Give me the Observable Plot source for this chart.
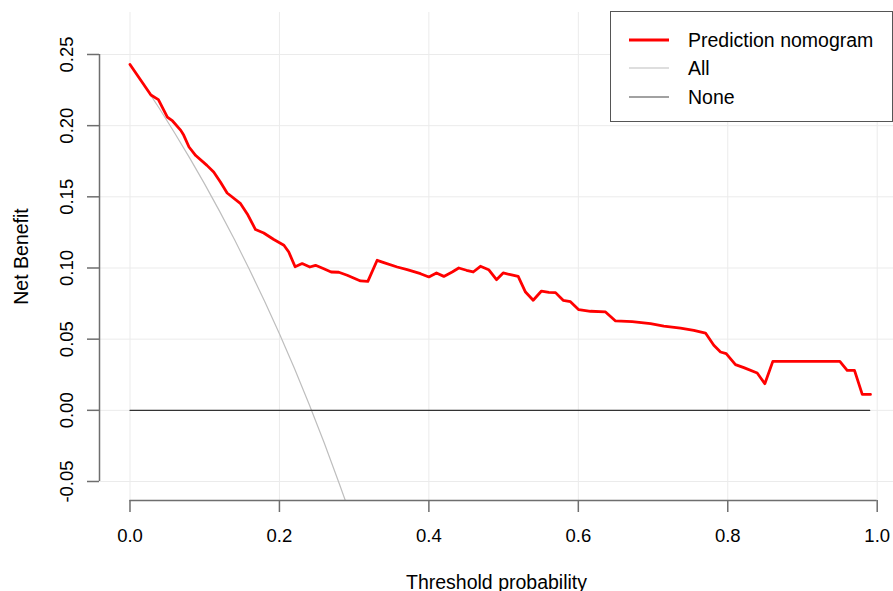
<!DOCTYPE html>
<html><head><meta charset="utf-8">
<script src="https://cdn.jsdelivr.net/npm/d3@7"></script>
<script src="https://cdn.jsdelivr.net/npm/@observablehq/plot@0.6"></script>
<style>
body{margin:0;background:#fff;}
#wrap{position:relative;width:893px;height:591px;font-family:"Liberation Sans",Arial,sans-serif;}
#legend{position:absolute;left:610px;top:11px;width:283px;height:111px;border:1px solid #555;background:#fff;box-sizing:border-box;}
</style>
</head><body>
<div id="wrap"><div id="legend"></div></div>
<script>
// Prediction nomogram curve
const modelX = [0,0.028,0.038,0.05,0.057,0.068,0.072,0.079,0.088,0.103,0.112,0.121,0.13,0.148,0.157,0.168,0.179,0.1925,0.206,0.2125,0.221,0.2304,0.2407,0.2483,0.2594,0.2692,0.2795,0.2907,0.3085,0.3183,0.3308,0.3397,0.3576,0.371,0.3888,0.400,0.4102,0.420,0.4312,0.440,0.4503,0.4593,0.469,0.480,0.4905,0.4994,0.5092,0.5195,0.5293,0.5396,0.5507,0.5605,0.5695,0.5797,0.5895,0.6006,0.6163,0.6364,0.6498,0.6721,0.6966,0.7144,0.7367,0.7546,0.7702,0.7813,0.7903,0.7979,0.8103,0.8215,0.8394,0.8496,0.8603,0.950,0.9598,0.9696,0.980,0.991];
const modelY = [0.243,0.2215,0.2183,0.206,0.2033,0.1967,0.1932,0.185,0.179,0.1721,0.1674,0.1604,0.1527,0.1452,0.138,0.127,0.1246,0.12,0.116,0.1112,0.1009,0.1031,0.1007,0.1019,0.0995,0.0972,0.097,0.0949,0.0909,0.0906,0.1054,0.1038,0.1007,0.0988,0.096,0.0937,0.0965,0.0941,0.0972,0.1,0.0984,0.0972,0.1012,0.0988,0.0918,0.0965,0.0953,0.0941,0.0831,0.0773,0.0838,0.0829,0.0827,0.0773,0.0763,0.0707,0.0696,0.0691,0.0628,0.0623,0.0609,0.0592,0.0578,0.0562,0.0543,0.0457,0.041,0.0398,0.0321,0.030,0.0262,0.0187,0.0344,0.0344,0.0281,0.0281,0.0112,0.0112];
// Treat-all curve
const allX = [0,0.02,0.04,0.06,0.08,0.10,0.12,0.14,0.16,0.18,0.20,0.22,0.24,0.26,0.28,0.29];
const allY = [0.243,0.2276,0.2115,0.1947,0.1772,0.1589,0.1398,0.1198,0.0988,0.0768,0.0538,0.0295,0.0039,-0.023,-0.0514,-0.066];
// Treat-none
const noneX = [0,0.99];
const noneY = [0,0];
// ticks
const xTicks = [0,0.2,0.4,0.6,0.8,1.0];
const yTicks = [-0.05,0,0.05,0.10,0.15,0.20,0.25];
// legend
const legendNames = ["Prediction nomogram","All","None"];
const legendColors = ["#ff0000","#bebebe","#444444"];
const legendWidths = [2.8,1.2,1.2];

const model = modelX.map((x,i)=>({x, y:modelY[i]}));
const all = allX.map((x,i)=>({x, y:allY[i]}));
const none = noneX.map((x,i)=>({x, y:noneY[i]}));

const FONT = '"Liberation Sans",Arial,sans-serif';
const xDomain=[-0.0408,1.0218], yDomain=[-0.06335,0.2795];
const axisCol = "#6e6e6e";
const chart = Plot.plot({
  width:893, height:591, marginLeft:99, marginRight:0, marginTop:12, marginBottom:91,
  style:{fontFamily:FONT, fontSize:"18.5px", color:"#000", background:"transparent"},
  x:{domain:xDomain},
  y:{domain:yDomain},
  marks:[
    Plot.gridX(xTicks,{stroke:"#ebebeb", strokeOpacity:1}),
    Plot.gridY(yTicks,{stroke:"#ebebeb", strokeOpacity:1}),
    Plot.line(all,{x:"x", y:"y", stroke:"#bebebe", strokeWidth:1.2, clip:true}),
    Plot.line(none,{x:"x", y:"y", stroke:"#333", strokeWidth:1.2}),
    Plot.line(model,{x:"x", y:"y", stroke:"#ff0000", strokeWidth:2.8, strokeLinejoin:"round"}),
    Plot.ruleX([xDomain[0]],{y1:-0.05, y2:0.25, stroke:axisCol, strokeWidth:1.5}),
    Plot.ruleY([yDomain[0]],{x1:0, x2:1, stroke:axisCol, strokeWidth:1.5}),
    Plot.axisX(xTicks,{tickSize:12, tickPadding:16, stroke:axisCol, strokeWidth:1.5, tickFormat:d=>d.toFixed(1), label:"Threshold probability", labelAnchor:"center", labelOffset:88, labelArrow:"none"}),
    Plot.axisY(yTicks,{tickSize:12, tickPadding:15, tickRotate:-90, stroke:axisCol, strokeWidth:1.5, tickFormat:d=>d.toFixed(2), label:"Net Benefit", labelAnchor:"center", labelOffset:85, labelArrow:"none"})
  ]
});
d3.select(chart).selectAll('g[aria-label="x-axis label"] text, g[aria-label="y-axis label"] text').attr("font-size","19.5px");
d3.select(chart).selectAll('g[aria-label="x-axis label"], g[aria-label="y-axis label"]').attr("font-size","19.5px");
const wrap = document.getElementById("wrap");
wrap.insertBefore(chart, wrap.firstChild);

// legend box
const lg = d3.select("#legend").append("svg").attr("width",281).attr("height",109);
const rowsY = [28,56,85];
legendNames.forEach((n,i)=>{
  lg.append("line").attr("x1",18).attr("x2",58).attr("y1",rowsY[i]).attr("y2",rowsY[i])
    .attr("stroke",legendColors[i]).attr("stroke-width",legendWidths[i]);
  lg.append("text").attr("x",77).attr("y",rowsY[i]).attr("dy","0.35em")
    .attr("font-size","19.5px").attr("font-family",FONT).attr("fill","#000").text(n);
});
</script>
</body></html>
